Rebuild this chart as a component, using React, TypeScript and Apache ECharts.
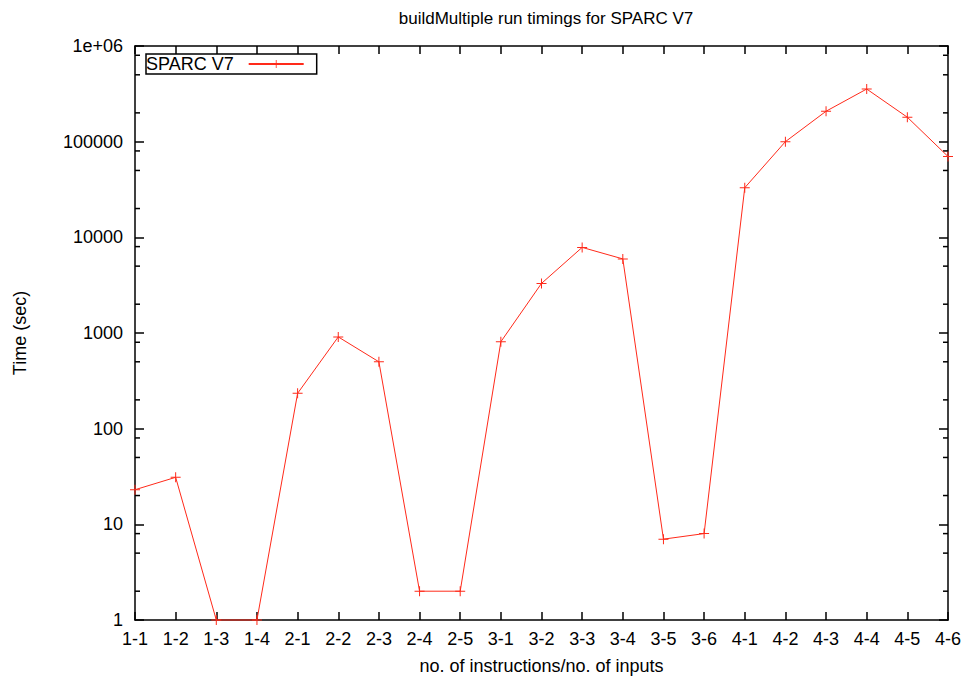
import React, { useEffect, useRef } from "react";
import * as echarts from "echarts";

const categories = [
  "1-1", "1-2", "1-3", "1-4", "2-1", "2-2", "2-3", "2-4", "2-5",
  "3-1", "3-2", "3-3", "3-4", "3-5", "3-6",
  "4-1", "4-2", "4-3", "4-4", "4-5", "4-6",
];
const seriesName = "SPARC V7";
const timings = [
  23, 31, 1, 1, 234, 910, 500, 2, 2,
  810, 3300, 7850, 5950, 7, 8,
  33000, 100000, 208000, 355000, 180000, 70000,
];
const minorTickValues = [
  2, 5, 8, 20, 50, 80, 200, 500, 800, 2000, 5000, 8000,
  20000, 50000, 80000, 200000, 500000, 800000,
];
const titleText = "buildMultiple run timings for SPARC V7";
const xName = "no. of instructions/no. of inputs";
const yName = "Time (sec)";

const FONT = "Liberation Sans, Arial, Helvetica, sans-serif";
const RED = "#ff2a1a";
const plusSymbol = "path://M0,4.5H10V5.5H0Z M4.5,0H5.5V10H4.5Z";

export default function App() {
  const ref = useRef<HTMLDivElement>(null);
  useEffect(() => {
    if (!ref.current) return;
    const chart = echarts.init(ref.current, undefined, { renderer: "svg" });
    const axisLine = { show: true, lineStyle: { color: "#000", width: 1.5 } };
    chart.setOption({
      animation: false,
      backgroundColor: "#fff",
      textStyle: { fontFamily: FONT },
      title: {
        text: titleText,
        left: 541,
        textAlign: "center",
        top: 5,
        textStyle: { fontSize: 17, fontWeight: "normal", color: "#000", fontFamily: FONT },
      },
      grid: { left: 135, right: 21, top: 46, bottom: 62, containLabel: false },
      legend: {
        data: [seriesName],
        left: 146,
        top: 54,
        align: "right",
        orient: "horizontal",
        itemWidth: 55,
        itemHeight: 10,
        padding: [1, 12, 1, 0],
        borderColor: "#000",
        borderWidth: 1.5,
        borderRadius: 0,
        textStyle: { fontSize: 18, color: "#000", fontFamily: FONT, padding: [0, 10, 0, 0] },
      },
      xAxis: [
        {
          type: "category",
          data: categories,
          boundaryGap: false,
          position: "bottom",
          name: xName,
          nameLocation: "middle",
          nameGap: 37,
          nameTextStyle: { fontSize: 18, color: "#000", fontFamily: FONT },
          axisLine,
          axisTick: { show: true, inside: true, length: 8, lineStyle: { color: "#000", width: 1.5 } },
          axisLabel: { fontSize: 18, color: "#000", margin: 10, interval: 0, fontFamily: FONT },
          splitLine: { show: false },
        },
        {
          type: "category",
          data: categories,
          boundaryGap: false,
          position: "top",
          axisLine,
          axisTick: { show: true, inside: true, length: 8, lineStyle: { color: "#000", width: 1.5 } },
          axisLabel: { show: false },
          splitLine: { show: false },
        },
      ],
      yAxis: [
        {
          type: "log",
          logBase: 10,
          min: 1,
          max: 1000000,
          splitNumber: 6,
          position: "left",
          name: yName,
          nameLocation: "middle",
          nameGap: 106,
          nameTextStyle: { fontSize: 18, color: "#000", fontFamily: FONT },
          axisLine,
          axisTick: { show: true, inside: true, length: 9, lineStyle: { color: "#000", width: 1.5 } },
          axisLabel: {
            fontSize: 18,
            color: "#000",
            margin: 12,
            fontFamily: FONT,
            formatter: (v: number) => (v >= 1000000 ? "1e+06" : String(Math.round(v))),
          },
          splitLine: { show: false },
        },
        {
          type: "log",
          logBase: 10,
          min: 1,
          max: 1000000,
          splitNumber: 6,
          position: "right",
          axisLine,
          axisTick: { show: true, inside: true, length: 9, lineStyle: { color: "#000", width: 1.5 } },
          axisLabel: { show: false },
          splitLine: { show: false },
        },
      ],
      series: [
        {
          name: "minorTicks",
          type: "custom",
          xAxisIndex: 0,
          yAxisIndex: 0,
          silent: true,
          clip: false,
          data: minorTickValues.map((v) => [0, v]),
          renderItem: (params: any, api: any) => {
            const y = api.coord([0, api.value(1)])[1];
            const cs = params.coordSys;
            const style = { stroke: "#000", lineWidth: 1.5 };
            return {
              type: "group",
              children: [
                { type: "line", shape: { x1: cs.x, y1: y, x2: cs.x + 5, y2: y }, style },
                { type: "line", shape: { x1: cs.x + cs.width - 5, y1: y, x2: cs.x + cs.width, y2: y }, style },
              ],
            };
          },
        },
        {
          name: seriesName,
          type: "line",
          xAxisIndex: 0,
          yAxisIndex: 0,
          data: timings,
          symbol: plusSymbol,
          symbolSize: 10,
          showAllSymbol: true,
          clip: false,
          lineStyle: { color: RED, width: 1 },
          itemStyle: { color: RED },
        },
      ],
    });
    return () => chart.dispose();
  }, []);
  return <div ref={ref} style={{ width: 969, height: 682, position: "absolute", left: 0, top: 0 }} />;
}
